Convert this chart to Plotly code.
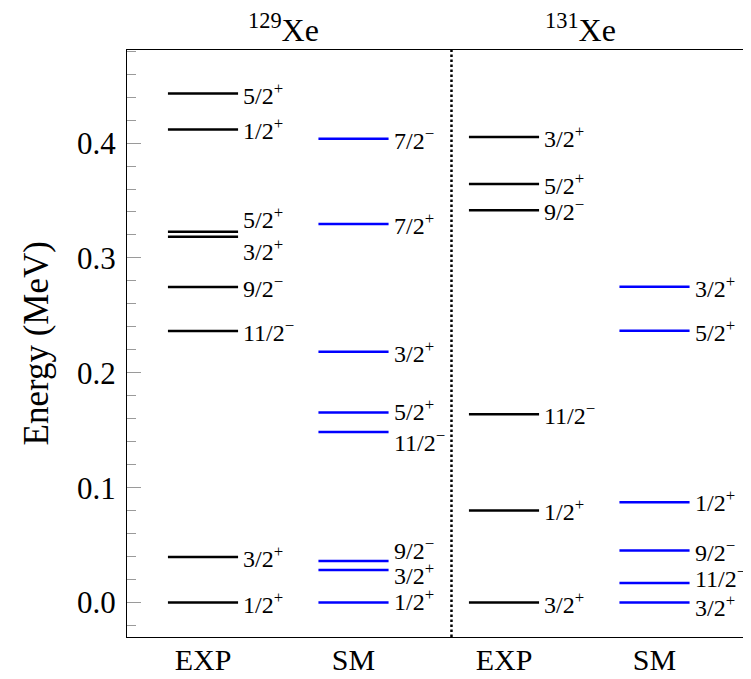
import plotly.graph_objects as go

# ---- data ----
columns = ["EXP", "SM", "EXP", "SM"]
column_pos = [1, 2, 3, 4]
nuclei = ["<sup>129</sup>Xe", "<sup>131</sup>Xe"]

exp129_E = [0.0, 0.0396, 0.2364, 0.2747, 0.3185, 0.3228, 0.4118, 0.4431]
exp129_J = ["1/2+", "3/2+", "11/2-", "9/2-", "3/2+", "5/2+", "1/2+", "5/2+"]
sm129_E = [0.0, 0.0284, 0.0362, 0.1484, 0.1655, 0.2184, 0.3296, 0.4038]
sm129_J = ["1/2+", "3/2+", "9/2-", "11/2-", "5/2+", "3/2+", "7/2+", "7/2-"]
exp131_E = [0.0, 0.0802, 0.1640, 0.3414, 0.3644, 0.4052]
exp131_J = ["3/2+", "1/2+", "11/2-", "9/2-", "5/2+", "3/2+"]
sm131_E = [0.0, 0.0171, 0.0452, 0.0872, 0.2365, 0.2748]
sm131_J = ["3/2+", "11/2-", "9/2-", "1/2+", "5/2+", "3/2+"]

y_ticks = [0.0, 0.1, 0.2, 0.3, 0.4]
y_ticktext = ["0.0", "0.1", "0.2", "0.3", "0.4"]

# ---- layout helpers (label vertical nudges in px, to avoid overlaps) ----
shift_exp129 = [0, 0, 0, 0, -13, 14, 0, 0]
shift_sm129 = [3, -4, 12, -9, 2, 0, 0, 0]
shift_exp131 = [0, 0, 0, 0, 0, 0]
shift_sm131 = [-3, 6, 0, 1, 0, 0]

FONT = "Liberation Serif"
HW = 0.233
BLUE = "#0000ff"
PLOT_W = 632  # plot area width (right frame sits just beyond the window)

groups = [
    (column_pos[0], exp129_E, exp129_J, shift_exp129, "black"),
    (column_pos[1], sm129_E, sm129_J, shift_sm129, BLUE),
    (column_pos[2], exp131_E, exp131_J, shift_exp131, "black"),
    (column_pos[3], sm131_E, sm131_J, shift_sm131, BLUE),
]


def fmt(j):
    sign = "+" if j.endswith("+") else "\u2212"
    return j[:-1] + "<sup>" + sign + "</sup>"


fig = go.Figure()
annotations = []
for xc, E, J, S, col in groups:
    xs, ys = [], []
    for e in E:
        xs += [xc - HW, xc + HW, None]
        ys += [e, e, None]
    fig.add_trace(go.Scatter(x=xs, y=ys, mode="lines",
                             line=dict(color=col, width=2.5),
                             showlegend=False, hoverinfo="skip"))
    for e, j, s in zip(E, J, S):
        annotations.append(dict(x=xc + HW, y=e, xref="x", yref="y",
                                text=fmt(j), showarrow=False,
                                xanchor="left", yanchor="middle",
                                xshift=3, yshift=s,
                                font=dict(family=FONT, size=24, color="black")))

# nucleus titles
for name, xp in zip(nuclei, [283, 580]):
    annotations.append(dict(x=(xp - 127) / PLOT_W, y=1.0, xref="paper", yref="paper",
                            text=name, showarrow=False, xanchor="center",
                            yanchor="bottom", yshift=0,
                            font=dict(family=FONT, size=32, color="black")))

# y-axis title
annotations.append(dict(x=(36 - 127) / PLOT_W, y=0.5, xref="paper", yref="paper",
                        text="Energy (MeV)", textangle=-90, showarrow=False,
                        xanchor="center", yanchor="middle",
                        font=dict(family=FONT, size=35, color="black")))

# invisible helper trace for right-side axis ticks
fig.add_trace(go.Scatter(x=[None], y=[None], yaxis="y2", showlegend=False,
                         hoverinfo="skip"))

fig.update_layout(
    width=751, height=679,
    margin=dict(l=119, r=0, t=42, b=50, autoexpand=False),
    paper_bgcolor="white", plot_bgcolor="white",
    showlegend=False,
    annotations=annotations,
    shapes=[dict(type="line", xref="x", yref="paper", x0=2.651, x1=2.651,
                 y0=0, y1=1, line=dict(color="black", width=2.5, dash="2.5px,2.5px"))],
    xaxis=dict(range=[0.495, 0.495 + PLOT_W / 150.5], tickvals=column_pos,
               ticktext=columns, ticks="", showgrid=False, zeroline=False,
               showline=True, mirror=True, linecolor="black", linewidth=1.3,
               tickfont=dict(family=FONT, size=30, color="black"),
               ticklabelstandoff=-4, automargin=False),
    yaxis=dict(range=[-0.03, 0.481], tickvals=y_ticks, ticktext=y_ticktext,
               ticks="inside", ticklen=14, tickcolor="#9a9a9a", tickwidth=1,
               minor=dict(dtick=0.02, tick0=0, ticks="inside", ticklen=9,
                          tickcolor="#9a9a9a", tickwidth=1),
               showgrid=False, zeroline=False, showline=True, mirror=False,
               linecolor="black", linewidth=1.3,
               tickfont=dict(family=FONT, size=31, color="black"),
               ticklabelstandoff=4, automargin=False),
    yaxis2=dict(range=[-0.03, 0.481], overlaying="y", side="right",
                tickvals=y_ticks, ticks="inside", ticklen=14, tickcolor="#9a9a9a",
                showticklabels=False, showgrid=False, zeroline=False,
                showline=True, linecolor="black", linewidth=1.3,
                automargin=False),
)

fig.write_html("out.html")
